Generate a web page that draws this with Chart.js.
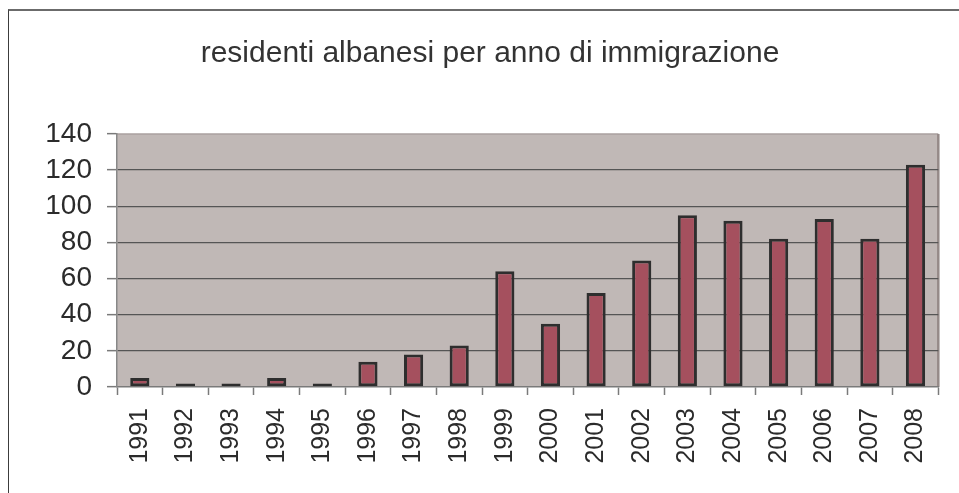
<!DOCTYPE html>
<html>
<head>
<meta charset="utf-8">
<script src="https://cdn.jsdelivr.net/npm/chart.js@4.4.1/dist/chart.umd.min.js"></script>
<style>
  body { margin: 0; background: #fff; }
  #wrap { position: relative; width: 959px; height: 493px; overflow: hidden; }
  #frame {
    position: absolute; left: 8px; top: 9px; width: 1000px; height: 600px;
    border-top: 2px solid #6b6b6b; border-left: 1px solid #3c3c3c;
  }
  #chart { position: absolute; left: 0; top: 0; }
</style>
</head>
<body>
<div id="wrap">
  <div id="frame"></div>
  <canvas id="chart" width="959" height="493"></canvas>
</div>
<script>
  // dati
  const anni = ["1991", "1992", "1993", "1994", "1995", "1996", "1997", "1998", "1999",
    "2000", "2001", "2002", "2003", "2004", "2005", "2006", "2007", "2008"];
  const residenti = [5, 2, 2, 5, 2, 14, 18, 23, 64, 35, 52, 70, 95, 92, 82, 93, 82, 123];
  const titolo = "residenti albanesi per anno di immigrazione";
  const yMax = 140;
  const yStep = 20;

  // sfondo grigio dell'area del grafico
  const plotBackground = {
    id: "plotBackground",
    beforeDraw(chart) {
      const { ctx, chartArea: a } = chart;
      ctx.save();
      ctx.fillStyle = "#c0b8b6";
      ctx.fillRect(a.left, a.top, a.right - a.left, a.bottom - a.top);
      ctx.strokeStyle = "#aaa19f";
      ctx.lineWidth = 1.5;
      ctx.beginPath();
      ctx.moveTo(a.left, a.top);
      ctx.lineTo(a.right, a.top);
      ctx.stroke();
      ctx.strokeStyle = "#958a88";
      ctx.lineWidth = 2.5;
      ctx.beginPath();
      ctx.moveTo(a.right, a.top);
      ctx.lineTo(a.right, a.bottom);
      ctx.stroke();
      ctx.restore();
    }
  };

  new Chart(document.getElementById("chart"), {
    type: "bar",
    data: {
      labels: anni,
      datasets: [{
        data: residenti,
        backgroundColor: "#a5505e",
        borderColor: "#2e2e2e",
        borderWidth: 3,
        borderSkipped: false,
        barPercentage: 0.42,
        categoryPercentage: 1
      }]
    },
    options: {
      responsive: false,
      animation: false,
      devicePixelRatio: 1,
      layout: { padding: { left: 39, right: 18, top: 0, bottom: 0 } },
      plugins: {
        legend: { display: false },
        tooltip: { enabled: false },
        title: {
          display: true,
          text: titolo,
          color: "#333333",
          font: { family: "Liberation Sans, Arial, sans-serif", size: 30, weight: "normal", lineHeight: 1.2 },
          padding: { top: 36, bottom: 62 }
        }
      },
      scales: {
        x: {
          afterFit: (s) => { s.height = 106; },
          grid: {
            offset: true,
            drawOnChartArea: false,
            drawTicks: true,
            tickLength: 8,
            tickColor: "#7a7a7a",
            tickWidth: 1.5
          },
          border: { color: "#7a7a7a", width: 1.5 },
          ticks: {
            autoSkip: false,
            minRotation: 90,
            maxRotation: 90,
            padding: 13,
            color: "#2b2b2b",
            font: { family: "Liberation Sans, Arial, sans-serif", size: 25 }
          }
        },
        y: {
          min: 0,
          max: yMax,
          afterFit: (s) => { s.width = 78; },
          grid: {
            color: (c) => (c.tick.value === 0 || c.tick.value === yMax) ? "rgba(0,0,0,0)" : "#555555",
            lineWidth: 1.3,
            drawTicks: true,
            tickLength: 10,
            tickColor: "#7a7a7a",
            tickWidth: 1.5
          },
          border: { color: "#888888", width: 1.5 },
          ticks: {
            autoSkip: false,
            stepSize: yStep,
            padding: 15,
            color: "#2b2b2b",
            font: { family: "Liberation Sans, Arial, sans-serif", size: 28 }
          }
        }
      }
    },
    plugins: [plotBackground]
  });
</script>
</body>
</html>
